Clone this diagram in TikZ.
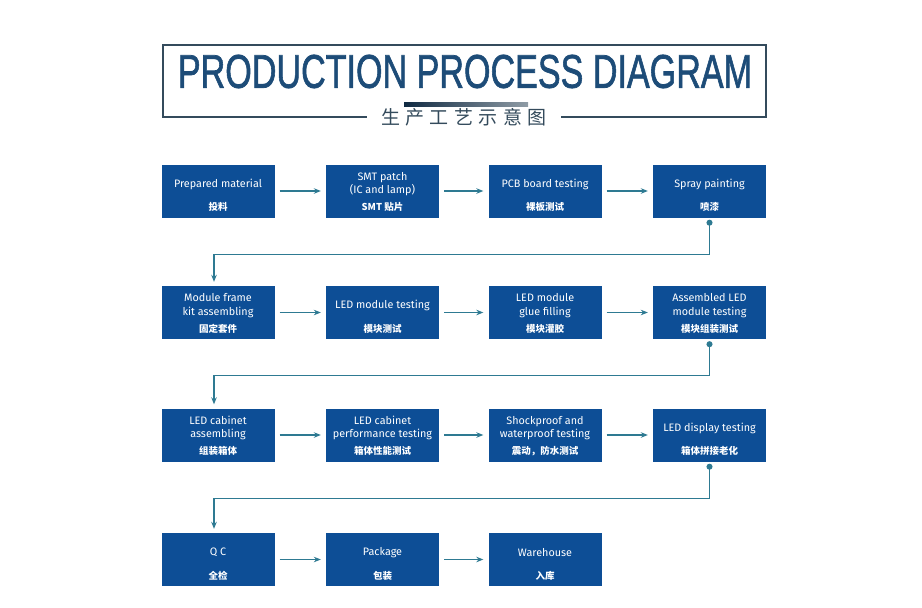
\documentclass[tikz,border=0pt]{standalone}
\usepackage{fontspec}
\setmainfont{Fira Sans}
\newfontfamily\cjk{Noto Sans CJK SC}
\newfontfamily\headfont[FakeBold=1.6]{Liberation Sans}
\usetikzlibrary{arrows.meta,positioning}
\definecolor{procblue}{HTML}{0D4E96}
\definecolor{flowteal}{HTML}{2E7A92}
\definecolor{titleblue}{HTML}{1D4C78}
\definecolor{framegray}{HTML}{344B5C}

\begin{document}
\begin{tikzpicture}[
  x=1pt, y=-1pt,
  proc/.style={fill=procblue, minimum width=113pt, minimum height=53pt, inner sep=0pt},
  en/.style={text=white, font=\fontsize{10.8}{13.5}\selectfont, align=center, yshift=7pt},
  cn/.style={text=white, font=\cjk\bfseries\fontsize{9.5}{11}\selectfont, yshift=-16pt},
  arr/.style={-{Stealth[length=7pt, width=5.5pt]}, flowteal, line width=1.1pt, shorten <=5pt, shorten >=5pt},
  ret/.style={{Circle[length=6pt]}-{Stealth[length=7pt, width=5.5pt]}, flowteal, line width=1.1pt, shorten <=2pt, shorten >=4pt},
  frame/.style={draw=framegray, line width=1.6pt},
  >=Stealth
]
\useasboundingbox (0,0) rectangle (922,608);

% Title block
\node[text=titleblue, inner sep=0pt] (title) at (465,71.5)
  {\resizebox{574pt}{33pt}{\headfont PRODUCTION PROCESS DIAGRAM}};
\node[text=framegray, font=\cjk\fontsize{19}{20}\selectfont, inner sep=0pt] (subtitle) at (464,117)
  {生\hspace{5.5pt}产\hspace{5.5pt}工\hspace{5.5pt}艺\hspace{5.5pt}示\hspace{5.5pt}意\hspace{5.5pt}图};
\draw[frame] ([xshift=-14pt]subtitle.west |- 0,117) -| (163,45) -| (766,117) -- ([xshift=14pt]subtitle.east |- 0,117);
\shade[left color=titleblue!55!black, middle color=framegray, right color=framegray!55] (404,102) rectangle (528,106);

% Row 1
\node[proc, label={[en]center:Prepared material}, label={[cn]center:投料}] (prep) at (218,191) {};
\node[proc, label={[en]center:SMT patch\\(IC and lamp)}, label={[cn]center:SMT 贴片}] (smt) at (382.5,191) {};
\node[proc, label={[en]center:PCB board testing}, label={[cn]center:裸板测试}] (pcb) at (545,191) {};
\node[proc, label={[en]center:Spray painting}, label={[cn]center:喷漆}] (spray) at (709.5,191) {};

% Row 2
\node[proc, label={[en]center:Module frame\\kit assembling}, label={[cn]center:固定套件}] (frame) at (218,312.5) {};
\node[proc, label={[en]center:LED module testing}, label={[cn]center:模块测试}] (modtest) at (382.5,312.5) {};
\node[proc, label={[en]center:LED module\\glue filling}, label={[cn]center:模块灌胶}] (glue) at (545,312.5) {};
\node[proc, label={[en]center:Assembled LED\\module testing}, label={[cn]center:模块组装测试}] (asmtest) at (709.5,312.5) {};

% Row 3
\node[proc, label={[en]center:LED cabinet\\assembling}, label={[cn]center:组装箱体}] (cabinet) at (218,435) {};
\node[proc, label={[en]center:LED cabinet\\performance testing}, label={[cn]center:箱体性能测试}] (perf) at (382.5,435) {};
\node[proc, label={[en]center:Shockproof and\\waterproof testing}, label={[cn]center:震动，防水测试}] (shock) at (545,435) {};
\node[proc, label={[en]center:LED display testing}, label={[cn]center:箱体拼接老化}] (display) at (709.5,435) {};

% Row 4
\node[proc, label={[en]center:Q C}, label={[cn]center:全检}] (qc) at (218,559.5) {};
\node[proc, label={[en]center:Package}, label={[cn]center:包装}] (package) at (382.5,559.5) {};
\node[proc, label={[en]center:Warehouse}, label={[cn]center:入库}] (warehouse) at (545,559.5) {};

% Arrows along each row
\foreach \a/\b in {prep/smt, smt/pcb, pcb/spray, frame/modtest, modtest/glue, glue/asmtest,
                   cabinet/perf, perf/shock, shock/display, qc/package, package/warehouse} {
  \draw[arr] (\a) -- (\b);
}

% Return lines to the next row
\draw[ret] (spray.south) -- ++(0,36.5) -| ([xshift=-4pt]frame.north);
\draw[ret] (asmtest.south) -- ++(0,36.5) -| ([xshift=-4pt]cabinet.north);
\draw[ret] (display.south) -- ++(0,36.5) -| ([xshift=-4pt]qc.north);

\end{tikzpicture}
\end{document}
